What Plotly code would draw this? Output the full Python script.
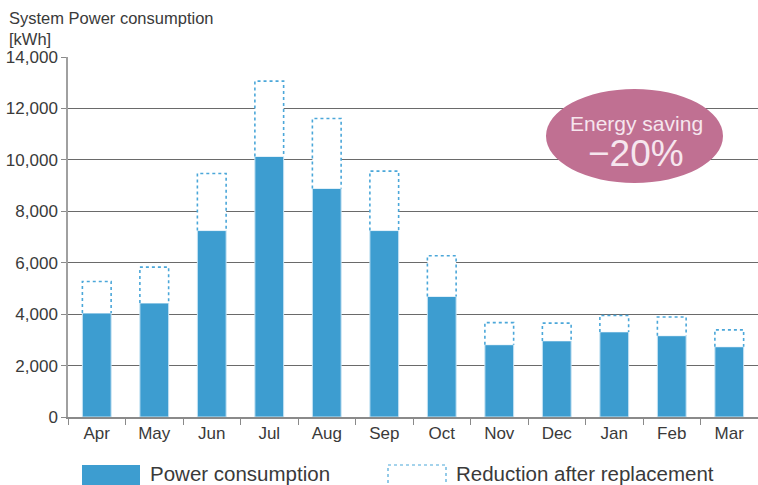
import plotly.graph_objects as go

# Monthly system power consumption [kWh]
months = ["Apr", "May", "Jun", "Jul", "Aug", "Sep", "Oct", "Nov", "Dec", "Jan", "Feb", "Mar"]
consumption_after = [4040, 4430, 7250, 10130, 8890, 7250, 4690, 2810, 2960, 3310, 3160, 2730]
consumption_before = [5270, 5830, 9470, 13060, 11610, 9560, 6270, 3670, 3650, 3950, 3890, 3390]
y_ticks = [0, 2000, 4000, 6000, 8000, 10000, 12000, 14000]

W, H = 758, 485
M_L, M_R, M_T, M_B = 68, 0, 57, 68
PLOT_W = W - M_L - M_R
PLOT_H = H - M_T - M_B

BAR_BLUE = "#3d9dd0"
DOT_BLUE = "#4ba7d9"
TEXT = "#3a3a3a"
FONT = "Liberation Sans, Arial, sans-serif"
BAR_W = 0.5


def px_x(px):
    return (px - M_L) / PLOT_W


def px_y(py):
    return (H - M_B - py) / PLOT_H


fig = go.Figure()
fig.add_trace(go.Bar(
    x=months, y=consumption_after, width=BAR_W,
    marker=dict(color=BAR_BLUE, line=dict(color="#c4e2f3", width=1)),
    name="Power consumption", showlegend=False,
))

shapes = []
# dotted open boxes showing the saving on top of each bar
for i, (after, before) in enumerate(zip(consumption_after, consumption_before)):
    xl, xr = i - BAR_W / 2, i + BAR_W / 2
    shapes.append(dict(
        type="path", xref="x", yref="y", layer="above",
        path=f"M {xl},{after} L {xl},{before} L {xr},{before} L {xr},{after}",
        fillcolor="white", line=dict(color=DOT_BLUE, width=1.6, dash="dot"),
    ))

# saving badge
shapes.append(dict(
    type="circle", xref="paper", yref="paper", layer="above",
    x0=px_x(546), x1=px_x(723), y0=px_y(183), y1=px_y(89),
    fillcolor="#c07092", line=dict(width=0),
))

# legend swatches
shapes.append(dict(
    type="rect", xref="paper", yref="paper",
    x0=px_x(82), x1=px_x(140), y0=px_y(490), y1=px_y(465),
    fillcolor=BAR_BLUE, line=dict(width=0),
))
shapes.append(dict(
    type="rect", xref="paper", yref="paper",
    x0=px_x(388), x1=px_x(446), y0=px_y(490), y1=px_y(465),
    fillcolor="white", line=dict(color=DOT_BLUE, width=1.2, dash="dot"),
))

annotations = [
    dict(text="System Power consumption<br>[kWh]", x=px_x(7), y=px_y(28), xref="paper", yref="paper",
         xanchor="left", yanchor="middle", align="left", showarrow=False,
         font=dict(family=FONT, size=16.5, color=TEXT)),
    dict(text="Energy saving", x=px_x(636), y=px_y(123), xref="paper", yref="paper",
         xanchor="center", yanchor="middle", showarrow=False,
         font=dict(family=FONT, size=21, color="#f6e6ee")),
    dict(text="\u221220%", x=px_x(636), y=px_y(153), xref="paper", yref="paper",
         xanchor="center", yanchor="middle", showarrow=False,
         font=dict(family=FONT, size=37, color="#f6e6ee")),
    dict(text="Power consumption", x=px_x(148), y=px_y(474), xref="paper", yref="paper",
         xanchor="left", yanchor="middle", showarrow=False,
         font=dict(family=FONT, size=20.5, color=TEXT)),
    dict(text="Reduction after replacement", x=px_x(454), y=px_y(474), xref="paper", yref="paper",
         xanchor="left", yanchor="middle", showarrow=False,
         font=dict(family=FONT, size=20.5, color=TEXT)),
]

fig.update_layout(
    width=W, height=H,
    margin=dict(l=M_L, r=M_R, t=M_T, b=M_B, pad=0),
    paper_bgcolor="white", plot_bgcolor="white",
    font=dict(family=FONT, size=17, color=TEXT),
    bargap=0.5,
    shapes=shapes, annotations=annotations,
    xaxis=dict(
        type="category", range=[-0.5, 11.5], tickson="boundaries",
        ticks="outside", ticklen=6, tickcolor="#8a8a8a", tickwidth=1.3,
        showline=True, linecolor="#8a8a8a", linewidth=1.5,
        showgrid=False, tickfont=dict(size=17, color=TEXT),
    ),
    yaxis=dict(
        range=[0, 14000], tickvals=y_ticks, tickformat=",",
        ticks="outside", ticklen=5, tickcolor="#8a8a8a", tickwidth=1.3,
        showline=True, linecolor="#a0a0a0", linewidth=1.5,
        showgrid=True, gridcolor="#6a6a6a", gridwidth=1.2, zeroline=False,
        tickfont=dict(size=17, color=TEXT),
    ),
)

fig.write_html("out.html")
